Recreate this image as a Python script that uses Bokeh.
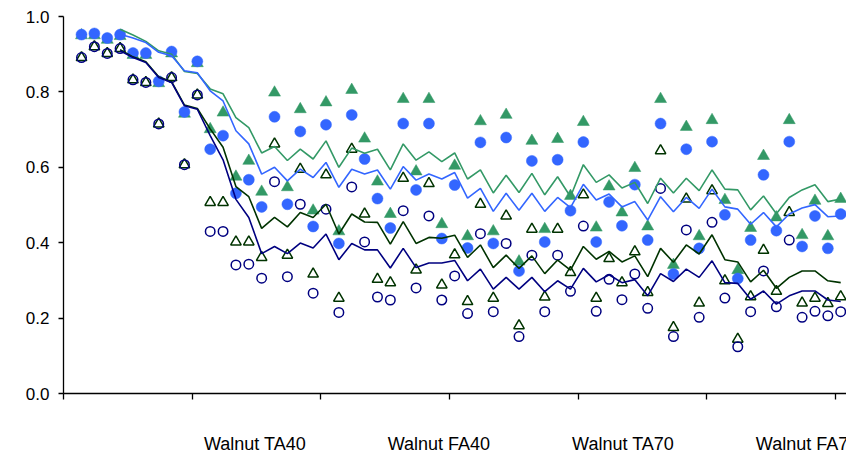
from bokeh.plotting import figure
from bokeh.layouts import column
from bokeh.models import (Range1d, FixedTicker, NumeralTickFormatter, CustomJSTickFormatter,
                          Legend, LegendItem, ColumnDataSource)
from bokeh.embed import file_html
from bokeh.resources import INLINE

nan = float("nan")

# ---------------- data ----------------
index = list(range(60))

series_names = ["Walnut TA40", "Walnut FA40", "Walnut TA70", "Walnut FA70"]

ta40 = [0.950, 0.950, 0.938, 0.948, 0.898, 0.898, 0.823, 0.902, 0.742, 0.876,
        0.701, 0.745, 0.575, 0.617, 0.535, 0.798, 0.547, 0.754, 0.485, 0.772,
        0.430, 0.805, 0.676, 0.562, 0.476, 0.781, 0.589, 0.781, 0.449, 0.604,
        0.417, 0.722, 0.430, 0.739, 0.350, 0.670, 0.436, 0.675, 0.524, 0.720,
        0.440, 0.549, 0.480, 0.598, 0.443, 0.781, 0.341, 0.707, 0.417, 0.725,
        0.513, 0.327, 0.439, 0.630, 0.467, 0.725, 0.420, 0.511, 0.417, 0.516]

fa40 = [0.952, 0.955, 0.943, 0.952, 0.903, 0.903, 0.828, 0.907, 0.747, 0.881,
        0.648, 0.684, 0.531, 0.567, 0.495, 0.734, 0.502, 0.695, 0.443, 0.713,
        0.398, 0.739, 0.622, 0.517, 0.439, 0.716, 0.540, 0.716, 0.411, 0.553,
        0.386, 0.666, 0.398, 0.679, 0.325, 0.617, 0.402, 0.620, 0.485, 0.667,
        0.402, 0.508, 0.445, 0.554, 0.407, 0.716, 0.317, 0.648, 0.385, 0.668,
        0.474, 0.305, 0.407, 0.580, 0.432, 0.668, 0.390, 0.471, 0.385, 0.476]

ta70 = [0.891, 0.920, 0.902, 0.915, 0.832, 0.825, 0.715, 0.838, 0.607, 0.792,
        0.507, 0.507, 0.402, 0.402, 0.361, 0.662, 0.367, 0.595, 0.317, 0.580,
        0.253, 0.648, 0.476, 0.303, 0.294, 0.571, 0.328, 0.557, 0.288, 0.368,
        0.244, 0.502, 0.253, 0.471, 0.180, 0.436, 0.256, 0.436, 0.321, 0.527,
        0.253, 0.358, 0.294, 0.376, 0.268, 0.644, 0.175, 0.516, 0.240, 0.538,
        0.299, 0.144, 0.257, 0.380, 0.271, 0.480, 0.240, 0.253, 0.239, 0.257]

fa70 = [0.891, 0.920, 0.902, 0.915, 0.832, 0.825, 0.715, 0.838, 0.607, 0.792,
        0.430, 0.430, 0.341, 0.343, 0.306, 0.562, 0.310, 0.502, 0.266, 0.489,
        0.215, 0.548, 0.402, 0.256, 0.248, 0.485, 0.280, 0.471, 0.248, 0.312,
        0.212, 0.424, 0.217, 0.398, 0.151, 0.367, 0.217, 0.367, 0.271, 0.444,
        0.218, 0.303, 0.249, 0.317, 0.226, 0.544, 0.151, 0.434, 0.202, 0.454,
        0.253, 0.124, 0.217, 0.325, 0.230, 0.407, 0.202, 0.218, 0.206, 0.217]

# trend lines (start at the 4th point)
ta40_trend = [nan, nan, nan,
              0.966, 0.951, 0.934, 0.909, 0.900, 0.854, 0.849,
              0.808, 0.795, 0.732, 0.705, 0.638, 0.655, 0.618, 0.648, 0.622, 0.670,
              0.600, 0.651, 0.637, 0.648, 0.593, 0.662, 0.619, 0.641, 0.615, 0.638,
              0.569, 0.593, 0.532, 0.579, 0.533, 0.584, 0.527, 0.575, 0.522, 0.607,
              0.560, 0.580, 0.545, 0.560, 0.504, 0.571, 0.532, 0.571, 0.538, 0.593,
              0.542, 0.540, 0.487, 0.524, 0.477, 0.520, 0.540, 0.554, 0.509, 0.516]

fa40_trend = [nan, nan, nan,
              0.953, 0.943, 0.931, 0.905, 0.896, 0.856, 0.851,
              0.803, 0.776, 0.697, 0.662, 0.582, 0.600, 0.564, 0.595, 0.573, 0.613,
              0.547, 0.595, 0.582, 0.593, 0.542, 0.602, 0.566, 0.582, 0.569, 0.586,
              0.518, 0.544, 0.483, 0.531, 0.486, 0.531, 0.483, 0.520, 0.493, 0.555,
              0.513, 0.529, 0.495, 0.509, 0.460, 0.522, 0.482, 0.520, 0.491, 0.542,
              0.495, 0.489, 0.449, 0.480, 0.442, 0.476, 0.492, 0.501, 0.469, 0.471]

ta70_trend = [nan, nan, nan,
              0.912, 0.893, 0.880, 0.840, 0.827, 0.765, 0.756,
              0.702, 0.653, 0.549, 0.522, 0.438, 0.467, 0.442, 0.480, 0.467, 0.502,
              0.423, 0.476, 0.455, 0.454, 0.396, 0.456, 0.398, 0.414, 0.412, 0.420,
              0.361, 0.394, 0.334, 0.367, 0.332, 0.365, 0.318, 0.354, 0.327, 0.390,
              0.356, 0.377, 0.349, 0.365, 0.310, 0.385, 0.348, 0.394, 0.370, 0.421,
              0.355, 0.349, 0.296, 0.327, 0.279, 0.308, 0.325, 0.325, 0.299, 0.294]

fa70_trend = [nan, nan, nan,
              0.909, 0.891, 0.878, 0.838, 0.825, 0.763, 0.754,
              0.684, 0.620, 0.515, 0.467, 0.371, 0.390, 0.371, 0.399, 0.386, 0.423,
              0.355, 0.398, 0.381, 0.381, 0.333, 0.385, 0.334, 0.346, 0.346, 0.353,
              0.299, 0.330, 0.277, 0.308, 0.277, 0.308, 0.270, 0.299, 0.277, 0.332,
              0.296, 0.315, 0.294, 0.302, 0.259, 0.318, 0.297, 0.330, 0.308, 0.352,
              0.294, 0.292, 0.250, 0.272, 0.237, 0.259, 0.272, 0.272, 0.248, 0.244]

x_tick_positions = [-1.4, 8.6, 18.6, 28.6, 38.6, 48.6, 58.6]
y_tick_values = [0.0, 0.2, 0.4, 0.6, 0.8, 1.0]

# ---------------- styling ----------------
FONT = "Liberation Sans"
C_TA40 = "#339966"
C_FA40 = "#3366FF"
C_TA70 = "#003300"
C_FA70 = "#000080"

MARKERS = [
    dict(marker="triangle", size=12, fill_color=C_TA40, line_color=C_TA40, line_width=0.5),
    dict(marker="circle", size=11, fill_color=C_FA40, line_color=C_FA40, line_width=0.5),
    dict(marker="triangle", size=10.5, fill_color=None, line_color=C_TA70, line_width=1.5),
    dict(marker="circle", size=9.5, fill_color=None, line_color=C_FA70, line_width=1.5),
]

# ---------------- main chart ----------------
p = figure(width=846, height=423,
           min_border_left=63, min_border_right=0, min_border_top=16, min_border_bottom=30,
           x_range=Range1d(-1.4, 59.45), y_range=Range1d(0, 1),
           output_backend="svg", toolbar_location=None, tools="")
p.outline_line_color = None
p.background_fill_color = "white"
p.border_fill_color = "white"
p.xgrid.grid_line_color = None
p.ygrid.grid_line_color = None

src = ColumnDataSource(dict(x=index, ta40=ta40, fa40=fa40, ta70=ta70, fa70=fa70,
                            ta40_t=ta40_trend, fa40_t=fa40_trend,
                            ta70_t=ta70_trend, fa70_t=fa70_trend))

for col, style in zip(["ta40", "fa40", "ta70", "fa70"], MARKERS):
    p.scatter("x", col, source=src, **style)

p.line("x", "ta40_t", source=src, line_color=C_TA40, line_width=1.6)
p.line("x", "fa40_t", source=src, line_color=C_FA40, line_width=1.6)
p.line("x", "ta70_t", source=src, line_color=C_TA70, line_width=1.6)
p.line("x", "fa70_t", source=src, line_color=C_FA70, line_width=1.6)

xa = p.xaxis[0]
xa.ticker = FixedTicker(ticks=x_tick_positions)
xa.formatter = CustomJSTickFormatter(code="return ''")
xa.major_label_text_font_size = "1px"
xa.major_label_standoff = 2
xa.axis_line_color = "black"
xa.axis_line_width = 1.3
xa.major_tick_line_color = "black"
xa.major_tick_line_width = 1.3
xa.major_tick_in = 0
xa.major_tick_out = 6
xa.minor_tick_line_color = None

ya = p.yaxis[0]
ya.ticker = FixedTicker(ticks=y_tick_values)
ya.formatter = NumeralTickFormatter(format="0.0")
ya.major_label_text_font = FONT
ya.major_label_text_font_size = "17px"
ya.major_label_text_color = "black"
ya.major_label_standoff = 9
ya.axis_line_color = "black"
ya.axis_line_width = 1.3
ya.major_tick_line_color = "black"
ya.major_tick_line_width = 1.3
ya.major_tick_in = 0
ya.major_tick_out = 5
ya.minor_tick_line_color = None

# ---------------- legend strip ----------------
lf = figure(width=846, height=34,
            min_border_left=0, min_border_right=0, min_border_top=0, min_border_bottom=0,
            x_range=Range1d(0, 1), y_range=Range1d(0, 1),
            x_axis_location=None, y_axis_location=None,
            output_backend="svg", toolbar_location=None, tools="")
lf.outline_line_color = None
lf.xgrid.grid_line_color = None
lf.ygrid.grid_line_color = None
lf.background_fill_color = "white"
lf.border_fill_color = "white"

empty = ColumnDataSource(dict(x=[], y=[]))
items = []
for name, style in zip(series_names, MARKERS):
    r = lf.scatter("x", "y", source=empty, **style)
    items.append(LegendItem(label=name, renderers=[r]))

legend = Legend(items=items, location=(112, 0), orientation="horizontal",
                glyph_width=26, glyph_height=26, label_height=26,
                label_standoff=3, padding=0, margin=0, spacing=53,
                label_text_font=FONT, label_text_font_size="18px",
                label_text_color="black",
                border_line_color=None, background_fill_alpha=0)
lf.add_layout(legend, "center")

layout = column(p, lf, spacing=0)

open("out.html", "w").write(file_html(layout, INLINE))
